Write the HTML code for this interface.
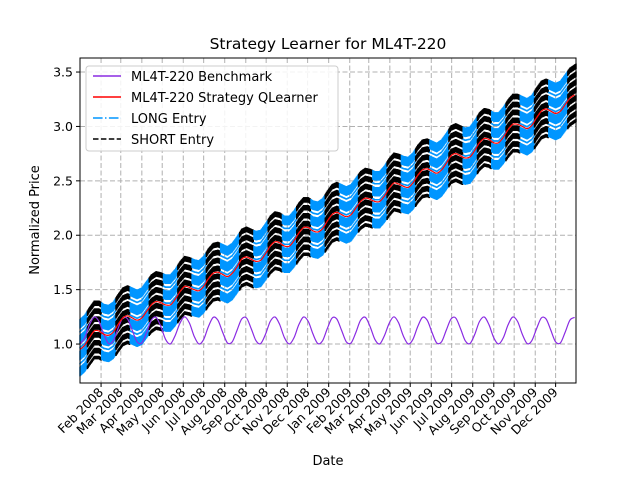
<!DOCTYPE html>
<html><head><meta charset="utf-8"><style>
body{margin:0;background:#fff}
svg text{font-family:"DejaVu Sans","Liberation Sans",sans-serif;fill:#000}
</style></head><body>
<svg id="chart" width="640" height="480" xmlns="http://www.w3.org/2000/svg">
<rect width="640" height="480" fill="#fff"/>
<text x="328" y="49" font-size="15.5" text-anchor="middle">Strategy Learner for ML4T-220</text>
<g id="grid"></g>
<g id="marks"></g>
<rect x="80" y="58" width="496" height="325" fill="none" stroke="#000" stroke-width="1"/>
<g id="axes"></g>
<text transform="translate(39,220) rotate(-90)" font-size="13" text-anchor="middle">Normalized Price</text>
<text x="328" y="465" font-size="13" text-anchor="middle">Date</text>
<g>
<rect x="86" y="66" width="252" height="85" rx="3" fill="#fff" fill-opacity="0.85" stroke="#ccc"/>
<line x1="93" y1="76" x2="121" y2="76" stroke="#8a2be2" stroke-width="1.5"/>
<text x="131" y="81" font-size="13">ML4T-220 Benchmark</text>
<line x1="93" y1="97" x2="121" y2="97" stroke="#ff0000" stroke-width="1.5"/>
<text x="131" y="102" font-size="13">ML4T-220 Strategy QLearner</text>
<line x1="93" y1="118" x2="121" y2="118" stroke="#0096ff" stroke-width="1.5" stroke-dasharray="9.6,2.4,1.5,2.4"/>
<text x="131" y="123" font-size="13">LONG Entry</text>
<line x1="93" y1="139" x2="121" y2="139" stroke="#000" stroke-width="1.5" stroke-dasharray="5.5,2.4"/>
<text x="131" y="144" font-size="13">SHORT Entry</text>
</g>
</svg>
<script>
const monthLabels=["Feb 2008","Mar 2008","Apr 2008","May 2008","Jun 2008","Jul 2008","Aug 2008","Sep 2008","Oct 2008","Nov 2008","Dec 2008","Jan 2009","Feb 2009","Mar 2009","Apr 2009","May 2009","Jun 2009","Jul 2009","Aug 2009","Sep 2009","Oct 2009","Nov 2009","Dec 2009"];
const monthDays=[31,60,91,121,152,182,213,244,274,305,335,366,397,425,456,486,517,547,578,609,639,670,700];
const yTicks=[1.0,1.5,2.0,2.5,3.0,3.5];
const yTickLabels=["1.0","1.5","2.0","2.5","3.0","3.5"];
const benchmark=[1.000,1.057,1.177,1.249,1.207,1.090,1.005,1.031,1.142,1.239,1.230,1.125,1.020,1.011,1.107,1.219,1.245,1.160,1.043,1.001,1.077,1.191,1.250,1.193,1.073,1.001,1.043,1.160,1.245,1.219,1.107,1.011,1.020,1.125,1.230,1.239,1.142,1.031,1.005,1.090,1.207,1.249,1.177,1.057,
1.000,1.057,1.177,1.249,1.207,1.090,1.005,1.031,1.142,1.239,1.230,1.125,1.020,1.011,1.107,1.219,1.245,1.160,1.043,1.001,1.077,1.191,1.250,1.193,1.073,1.001,1.043,1.160,1.245,1.219,1.107,1.011,1.020,1.125,1.230,1.239,1.142,1.031,1.005,1.090,1.207,1.249,1.177,1.057,
1.000,1.057,1.177,1.249,1.207,1.090,1.005,1.031,1.142,1.239,1.230,1.125,1.020,1.011,1.107,1.219,1.245];
const strategy=[0.95,0.99,1.06,1.12,1.12,1.09,1.08,1.11,1.18,1.24,1.26,1.24,1.22,1.24,1.30,1.36,1.39,1.38,1.36,1.36,1.41,1.48,1.53,1.52,1.50,1.49,1.53,1.60,1.65,1.66,1.64,1.62,1.65,1.71,1.78,1.80,1.78,1.76,1.77,1.83,1.90,1.94,1.93,1.90,
1.90,1.95,2.02,2.07,2.07,2.04,2.03,2.06,2.13,2.19,2.21,2.19,2.17,2.19,2.25,2.31,2.34,2.33,2.31,2.31,2.36,2.43,2.48,2.47,2.45,2.44,2.48,2.55,2.60,2.61,2.59,2.57,2.60,2.66,2.73,2.75,2.73,2.71,2.72,2.78,2.85,2.89,2.88,2.85,
2.85,2.90,2.97,3.02,3.02,3.00,2.98,3.01,3.08,3.14,3.16,3.14,3.12,3.14,3.20,3.26,3.29];
const entryPattern="LLSSSLLLSSSLLLLSSSLLLSSSLLLSSSLLLLSSSLLLSSSL";
const entries=(entryPattern+entryPattern+entryPattern.slice(0,17)).split("");
const sampleStepDays=7;

const NS="http://www.w3.org/2000/svg";
const L=80,R=576,T=58,B=383,X0=0,X1=730,Y0=0.642,Y1=3.629;
const xs=d=>L+(d-X0)/(X1-X0)*(R-L);
const ys=v=>B-(v-Y0)/(Y1-Y0)*(B-T);
function mk(tag,parent,attrs){const e=document.createElementNS(NS,tag);for(const k in attrs)e.setAttribute(k,attrs[k]);parent.appendChild(e);return e;}
const grid=document.getElementById('grid'),marks=document.getElementById('marks'),axes=document.getElementById('axes');
monthDays.forEach((d,i)=>{
 const x=xs(d);
 const g=mk('line',grid,{x1:x,x2:x,y1:T,y2:B,stroke:'#b0b0b0','stroke-dasharray':'5,2.5','stroke-width':1});
 
 
 const t=mk('line',axes,{x1:x,x2:x,y1:B,y2:B+4,stroke:'#000'});
 
 
 const lb=mk('text',axes,{transform:`translate(${x+3},${B+10}) rotate(-45)`,'font-size':12.5,'text-anchor':'end'});
 lb.textContent=monthLabels[i];
 
 
});
yTicks.forEach((v,i)=>{
 const y=ys(v);
 const g=mk('line',grid,{x1:L,x2:R,y1:y,y2:y,stroke:'#b0b0b0','stroke-dasharray':'5,2.5','stroke-width':1});
 
 
 const t=mk('line',axes,{x1:L-4,x2:L,y1:y,y2:y,stroke:'#000'});
 
 
 const lb=mk('text',axes,{x:L-7,y:y+4.5,'font-size':12.5,'text-anchor':'end'});
 lb.textContent=yTickLabels[i];
 
 
});
function valAt(arr,day){
 const f=day/sampleStepDays,i=Math.min(Math.floor(f),arr.length-2),t=f-i;
 return arr[i]*(1-t)+arr[i+1]*t;
}
entries.forEach((e,k)=>{
 for(let d=0;d<sampleStepDays;d++){
  const day=k*sampleStepDays+d-3;
  if(day<0||day>X1)continue;
  const v=valAt(strategy,day);
  const x=xs(day);
  const ln=mk('line',marks,{x1:x,x2:x,y1:ys(v+0.28),y2:ys(v-0.26),stroke:e==='S'?'#000':'#0096ff','stroke-width':1.5,'stroke-dasharray':e==='S'?'5.5,2.4':'9.6,2.4,1.5,2.4'});
  
  
 }
});
function path(arr,color,name){
 const P=arr.map((v,i)=>[xs(i*sampleStepDays),ys(v)]);
 let d='M'+P[0][0].toFixed(1)+','+P[0][1].toFixed(1);
 for(let i=0;i<P.length-1;i++){
  const p0=P[Math.max(i-1,0)],p1=P[i],p2=P[i+1],p3=P[Math.min(i+2,P.length-1)];
  const c1=[p1[0]+(p2[0]-p0[0])/6,p1[1]+(p2[1]-p0[1])/6],c2=[p2[0]-(p3[0]-p1[0])/6,p2[1]-(p3[1]-p1[1])/6];
  d+='C'+c1.map(n=>n.toFixed(1)).join(',')+' '+c2.map(n=>n.toFixed(1)).join(',')+' '+p2[0].toFixed(1)+','+p2[1].toFixed(1);
 }
 const p=mk('path',marks,{d:d,fill:'none',stroke:color,'stroke-width':1.2,'stroke-linejoin':'round'});
 
 
}
path(benchmark,'#8a2be2','benchmark-line');
path(strategy,'#ff0000','strategy-line');
</script>
</body></html>
